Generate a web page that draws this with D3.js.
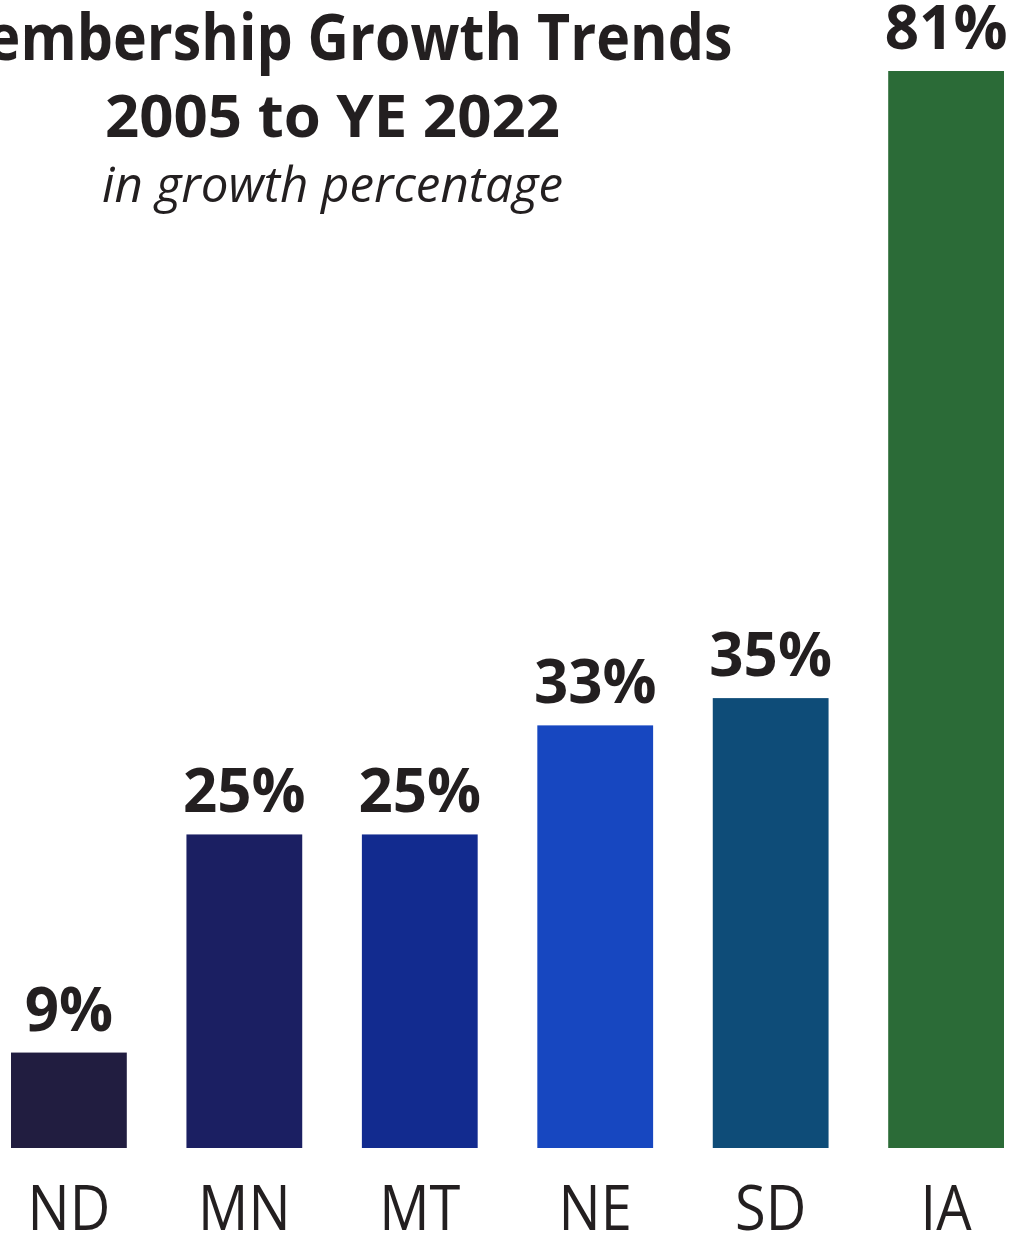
<!DOCTYPE html>
<html>
<head>
<meta charset="utf-8">
<script src="https://cdn.jsdelivr.net/npm/d3@7"></script>
<style>
  html, body { margin: 0; padding: 0; background: #ffffff; }
  svg { display: block; }
</style>
</head>
<body>
<svg id="chart" width="1012" height="1238"></svg>
<script>
// Membership growth by state, 2005 to year-end 2022 (percent)
const states = ["ND", "MN", "MT", "NE", "SD", "IA"];
const growth = [9, 25, 25, 33, 35, 81];
const barColors = ["#211d40", "#1b1f62", "#122b8f", "#1747c0", "#0e4c78", "#2b6b37"];
const titleLines = ["Membership Growth Trends", "2005 to YE 2022"];
const subtitle = "in growth percentage";

const data = states.map((s, i) => ({ state: s, value: growth[i], color: barColors[i] }));

const svg = d3.select("#chart");
const ink = "#231f20";
const fontFamily = "'Open Sans', 'Noto Sans', sans-serif";

const x = d3.scaleBand()
  .domain(states)
  .range([11, 1004])
  .paddingInner(0.34)
  .paddingOuter(0);

const baseY = 1148;
const y = d3.scaleLinear()
  .domain([2, 81])
  .range([baseY, 71]);

// bars
svg.append("g")
  .selectAll("rect")
  .data(data)
  .join("rect")
  .attr("x", d => x(d.state))
  .attr("y", d => y(d.value))
  .attr("width", x.bandwidth())
  .attr("height", d => baseY - y(d.value))
  .attr("fill", d => d.color);

// value labels above each bar
svg.append("g")
  .selectAll("text")
  .data(data)
  .join("text")
  .attr("x", d => x(d.state) + x.bandwidth() / 2)
  .attr("y", d => y(d.value) - 22)
  .attr("text-anchor", "middle")
  .attr("font-family", fontFamily)
  .attr("font-weight", 700)
  .attr("font-size", 60)
  .attr("fill", ink)
  .text(d => d3.format("d")(d.value) + "%");

// category axis (labels only, no line or ticks); glyphs slightly tall
const xAxis = d3.axisBottom(x).tickSize(0).tickPadding(0);
const axisG = svg.append("g")
  .attr("transform", `translate(0, ${baseY})`)
  .call(xAxis);
axisG.select(".domain").remove();
axisG.selectAll("text")
  .attr("dy", null)
  .attr("y", 0)
  .attr("transform", "translate(0, 82) scale(1, 1.12)")
  .attr("font-family", fontFamily)
  .attr("font-weight", 400)
  .attr("font-size", 56)
  .attr("fill", ink);

// title block, centred; each line sized to its measured width
function fitText(sel, targetWidth) {
  const base = 50;
  sel.attr("font-size", base);
  const w = sel.node().getComputedTextLength();
  sel.attr("font-size", base * targetWidth / w);
}

const cx = 332.5;
const t1 = svg.append("text")
  .attr("transform", `translate(${cx}, 60) scale(1, 1.12)`)
  .attr("text-anchor", "middle")
  .attr("font-family", fontFamily)
  .attr("font-weight", 700)
  .attr("fill", ink)
  .text(titleLines[0]);
fitText(t1, 800);

const t2 = svg.append("text")
  .attr("x", cx).attr("y", 137)
  .attr("text-anchor", "middle")
  .attr("font-family", fontFamily)
  .attr("font-weight", 700)
  .attr("fill", ink)
  .text(titleLines[1]);
fitText(t2, 455);

const t3 = svg.append("text")
  .attr("x", cx).attr("y", 202)
  .attr("text-anchor", "middle")
  .attr("font-family", fontFamily)
  .attr("font-style", "italic")
  .attr("font-weight", 400)
  .attr("fill", ink)
  .text(subtitle);
fitText(t3, 461);
</script>
</body>
</html>
